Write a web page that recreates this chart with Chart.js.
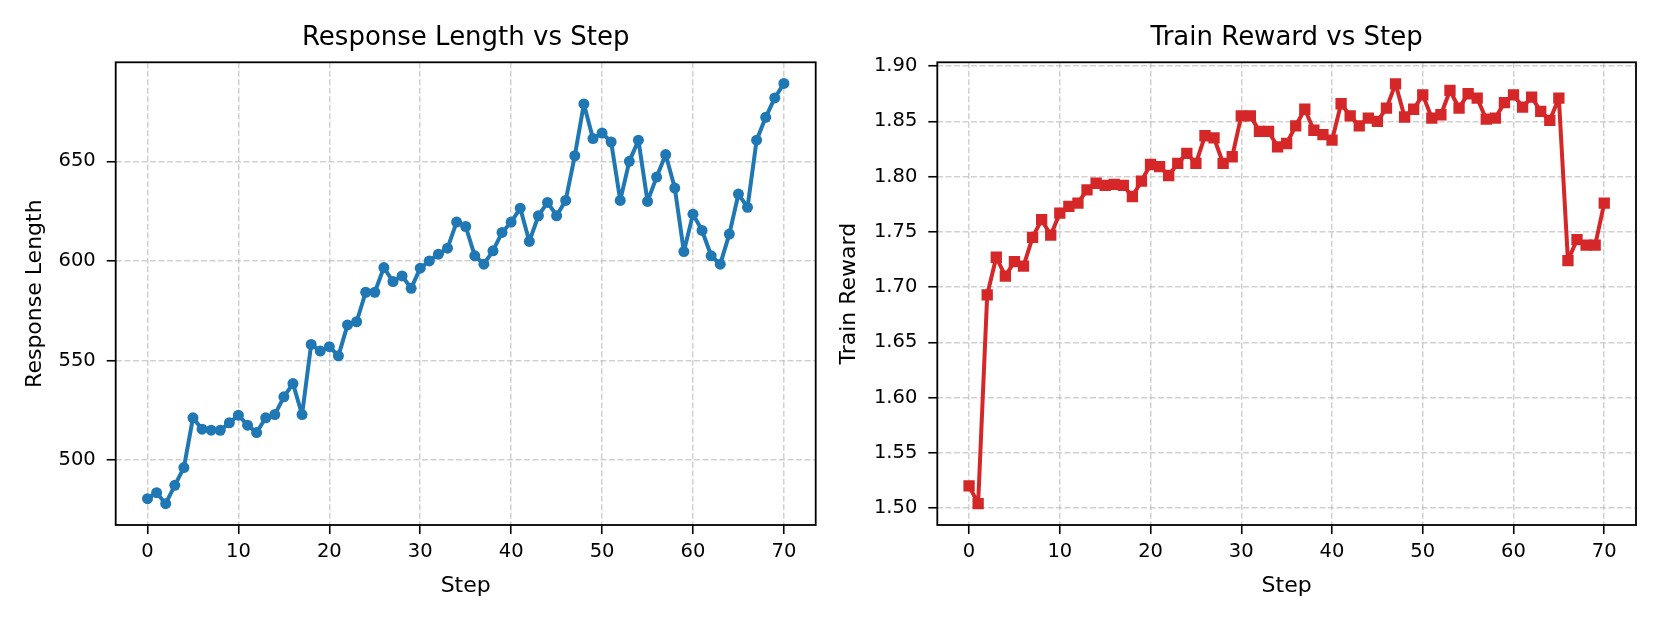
<!DOCTYPE html>
<html>
<head>
<meta charset="utf-8">
<script src="https://cdn.jsdelivr.net/npm/chart.js@4"></script>
<style>
  body { margin: 0; background: #fff; }
  canvas { position: absolute; top: 0; }
  #lenChart { left: 0; }
  #rewardChart { left: 830px; }
</style>
</head>
<body>
<canvas id="lenChart" width="830" height="623"></canvas>
<canvas id="rewardChart" width="831" height="623"></canvas>
<script>
// values
const responseLength = [
  480.7, 483.7, 478.2, 487.4, 496.3, 521.3, 515.6, 515.1, 515.0, 518.8,
  522.6, 517.6, 513.9, 521.3, 522.9, 531.8, 538.5, 522.9, 558.1, 554.8,
  557.0, 552.4, 567.9, 569.5, 584.3, 584.3, 596.7, 589.7, 592.5, 586.3,
  596.4, 600.0, 603.4, 606.4, 619.5, 617.3, 602.6, 598.4, 605.1, 614.3,
  619.5, 626.5, 609.8, 622.7, 629.4, 622.7, 630.4, 652.8, 678.8, 661.4,
  664.2, 659.7, 630.4, 650.0, 660.6, 629.9, 642.1, 653.4, 636.6, 604.7,
  623.5, 615.3, 602.6, 598.4, 613.5, 633.6, 626.9, 660.6, 672.1, 681.8,
  689.1
];
const trainReward = [
  1.520, 1.504, 1.693, 1.727, 1.710, 1.723, 1.719, 1.745, 1.761, 1.747,
  1.767, 1.773, 1.776, 1.788, 1.794, 1.792, 1.793, 1.792, 1.782, 1.796,
  1.811, 1.809, 1.801, 1.812, 1.821, 1.812, 1.837, 1.835, 1.812, 1.818,
  1.855, 1.855, 1.841, 1.841, 1.827, 1.830, 1.846, 1.861, 1.842, 1.838,
  1.833, 1.866, 1.855, 1.846, 1.853, 1.850, 1.862, 1.884, 1.854, 1.861,
  1.874, 1.853, 1.856, 1.878, 1.862, 1.875, 1.871, 1.852, 1.853, 1.867,
  1.874, 1.863, 1.872, 1.859, 1.851, 1.871, 1.724, 1.743, 1.738, 1.738,
  1.776
];
const steps = responseLength.map((_, i) => i);
const stepTicks = [0, 10, 20, 30, 40, 50, 60, 70];
const lengthTicks = [500, 550, 600, 650];
const rewardTicks = [1.50, 1.55, 1.60, 1.65, 1.70, 1.75, 1.80, 1.85, 1.90];

const FONT = "'DejaVu Sans', sans-serif";

// matplotlib style box around the plot area
const frame = {
  id: 'frame',
  afterDraw(chart) {
    const a = chart.chartArea, ctx = chart.ctx;
    ctx.save();
    ctx.strokeStyle = '#000';
    ctx.lineWidth = 1.8;
    ctx.strokeRect(a.left, a.top, a.right - a.left, a.bottom - a.top);
    ctx.restore();
  }
};

function gridOpts() {
  return {
    color: 'rgba(185,185,185,0.65)',
    lineWidth: 1.5,
    tickColor: '#000',
    tickWidth: 1.6,
    tickLength: 9,
    tickBorderDash: []
  };
}

function makeChart(id, opts) {
  const pts = steps.map((s, i) => ({ x: s, y: opts.values[i] }));
  return new Chart(document.getElementById(id), {
    type: 'line',
    data: {
      datasets: [{
        data: pts,
        borderColor: opts.color,
        backgroundColor: opts.color,
        pointBackgroundColor: opts.color,
        pointBorderWidth: 0,
        pointStyle: opts.pointStyle,
        pointRadius: opts.pointRadius,
        borderWidth: 4,
        borderJoinStyle: 'round',
        borderCapStyle: 'round',
        tension: 0
      }]
    },
    options: {
      responsive: false,
      animation: false,
      events: [],
      layout: { padding: { left: 0, right: opts.padRight, top: 0, bottom: 0 } },
      plugins: {
        legend: { display: false },
        tooltip: { enabled: false },
        title: {
          display: true,
          text: opts.title,
          fullSize: false,
          color: '#000',
          font: { family: FONT, size: 26, weight: 'normal' },
          padding: { top: 23, bottom: 8.1 }
        }
      },
      scales: {
        x: {
          type: 'linear',
          min: -3.5,
          max: 73.5,
          afterBuildTicks: s => { s.ticks = stepTicks.map(v => ({ value: v })); },
          afterFit: s => { s.height = 98; },
          grid: gridOpts(),
          border: { display: false, dash: [6, 2.5] },
          ticks: { color: '#000', font: { family: FONT, size: 19.5 }, padding: 6, maxRotation: 0 },
          title: {
            display: true, text: 'Step', color: '#000',
            font: { family: FONT, size: 22 }, padding: { bottom: 24 }
          }
        },
        y: {
          min: opts.yMin,
          max: opts.yMax,
          afterBuildTicks: s => { s.ticks = opts.yTicks.map(v => ({ value: v })); },
          afterFit: s => { s.width = opts.axisWidth; },
          grid: gridOpts(),
          border: { display: false, dash: [6, 2.5] },
          ticks: {
            color: '#000', font: { family: FONT, size: 19.5 }, padding: 11,
            callback: opts.tickFmt
          },
          title: {
            display: true, text: opts.yLabel, color: '#000',
            font: { family: FONT, size: 22 }, padding: { top: opts.yTitlePad }
          }
        }
      }
    },
    plugins: [frame]
  });
}

makeChart('lenChart', {
  values: responseLength,
  color: '#1f77b4',
  pointStyle: 'circle',
  pointRadius: 5.5,
  title: 'Response Length vs Step',
  yLabel: 'Response Length',
  yMin: 467.5,
  yMax: 699.7,
  yTicks: lengthTicks,
  tickFmt: v => v,
  axisWidth: 115.7,
  padRight: 14.3,
  yTitlePad: 22
});

makeChart('rewardChart', {
  values: trainReward,
  color: '#d62728',
  pointStyle: 'rect',
  pointRadius: 8,
  title: 'Train Reward vs Step',
  yLabel: 'Train Reward',
  yMin: 1.4846,
  yMax: 1.9035,
  yTicks: rewardTicks,
  tickFmt: v => v.toFixed(2),
  axisWidth: 107.3,
  padRight: 25,
  yTitlePad: 6
});
</script>
</body>
</html>
